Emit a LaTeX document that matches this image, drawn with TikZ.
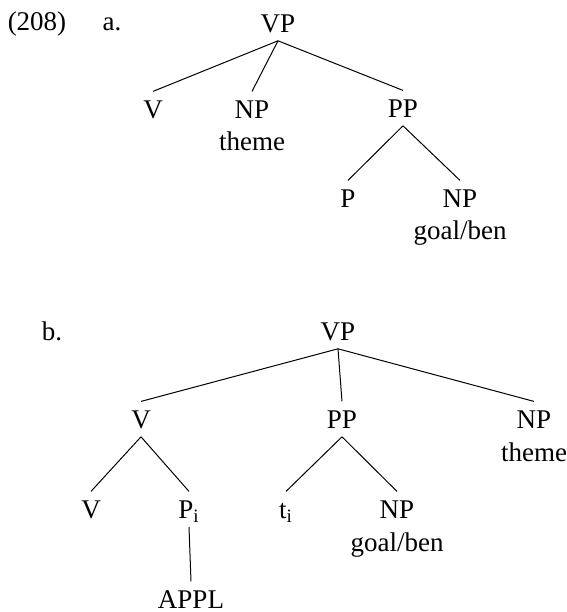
\documentclass[tikz,border=0pt]{standalone}
\usepackage{fontspec}
\setmainfont{Liberation Serif}
\usepackage{tikz}
\usetikzlibrary{positioning}

\begin{document}
\begin{tikzpicture}[x=0.5pt,y=-0.5pt,
  every node/.style={font=\fontsize{13.5}{16}\selectfont},
  cat/.style={anchor=base,inner xsep=1pt,inner ysep=4.2pt,text height=8.9pt,text depth=0pt},
  gloss/.style={anchor=base,inner sep=0pt},
  branch/.style={line width=0.5pt}]
\useasboundingbox (0,0) rectangle (567,612);

% (208a)
\node[gloss] (ex) at (37,30) {(208)};
\node[gloss] (lbla) at (112,30) {a.};
\node[cat] (VPa) at (278,32) {VP};
\node[cat] (Va) at (153,118) {V};
\node[cat] (NPa) at (252,118) {NP};
\node[gloss] (themea) at (252,150) {theme};
\node[cat] (PPa) at (403,117) {PP};
\node[cat] (Pa) at (348,207) {P};
\node[cat] (NPga) at (460,207) {NP};
\node[gloss] (goala) at (460,239) {goal/ben};

\draw[branch] (VPa.south) -- (Va.north);
\draw[branch] (VPa.south) -- (NPa.north);
\draw[branch] (VPa.south) -- (PPa.north);
\draw[branch] (PPa.south) -- (Pa.north);
\draw[branch] (PPa.south) -- (NPga.north);

% (208b)
\node[gloss] (lblb) at (52,340) {b.};
\node[cat] (VPb) at (338,340) {VP};
\node[cat] (Vb) at (141,428) {V};
\node[cat] (PPb) at (342,428) {PP};
\node[cat] (NPb) at (534,428) {NP};
\node[gloss] (themeb) at (534,461) {theme};
\node[cat] (Vlow) at (91,518) {V};
\node[cat] (Pi) at (189,518) {P\textsubscript{i}};
\node[cat] (ti) at (286,518) {t\textsubscript{i}};
\node[cat] (NPgb) at (397,518) {NP};
\node[gloss] (goalb) at (397,551) {goal/ben};
\node[cat] (appl) at (191,608) {APPL};

\draw[branch] (VPb.south) -- (Vb.north);
\draw[branch] (VPb.south) -- (PPb.north);
\draw[branch] (VPb.south) -- (NPb.north);
\draw[branch] (Vb.south) -- (Vlow.north);
\draw[branch] (Vb.south) -- (Pi.north);
\draw[branch] (PPb.south) -- (ti.north);
\draw[branch] (PPb.south) -- (NPgb.north);
\draw[branch] (Pi.south) -- (appl.north);
\end{tikzpicture}
\end{document}
